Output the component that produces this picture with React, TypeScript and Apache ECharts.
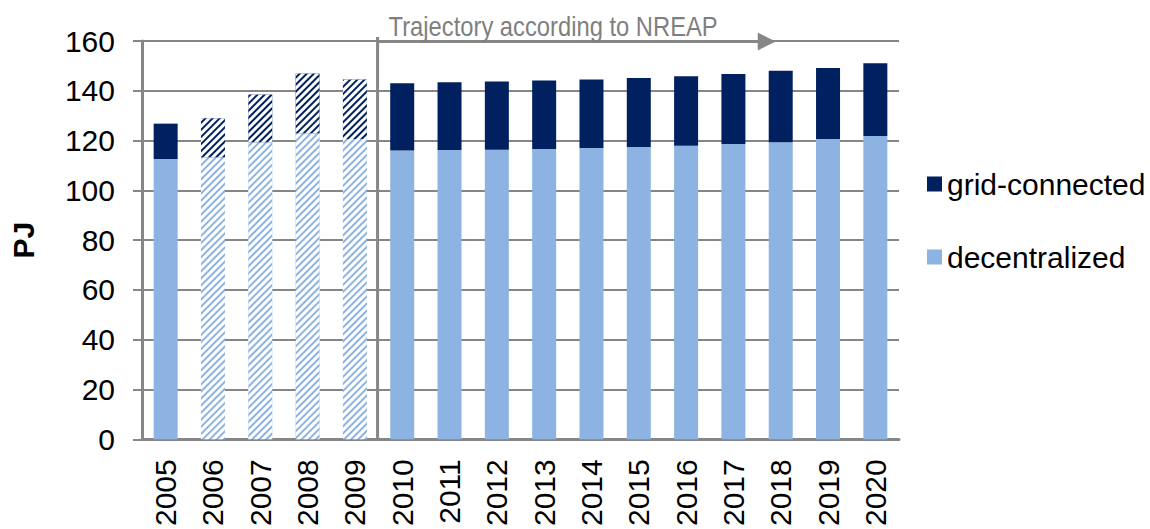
import React, { useEffect, useRef } from 'react';
import * as echarts from 'echarts';

const years = ['2005', '2006', '2007', '2008', '2009', '2010', '2011', '2012', '2013', '2014', '2015', '2016', '2017', '2018', '2019', '2020'];
const decentralized = [112.6, 113.3, 119.3, 122.9, 120.6, 116.0, 116.2, 116.3, 116.6, 117.0, 117.4, 117.9, 118.6, 119.3, 120.6, 121.8];
const gridConnected = [14.2, 15.7, 19.2, 24.0, 23.9, 27.0, 27.2, 27.4, 27.5, 27.5, 27.7, 27.9, 28.1, 28.7, 28.6, 29.3];
const hatchedYears = ['2006', '2007', '2008', '2009'];
const yTicks = { min: 0, max: 160, interval: 20 };
const annotation = 'Trajectory according to NREAP';
const trajectoryStart = '2010';
const trajectoryEnd = '2018';

const DARK = '#002060';
const LIGHT = '#8db3e2';
const GRAY = '#868686';
const FONT = "'Liberation Sans', Arial, sans-serif";

const decal = {
  symbol: 'rect',
  color: '#ffffff',
  dashArrayX: [1, 0],
  dashArrayY: [2.2, 2],
  rotation: -Math.PI / 4,
};

export default function App() {
  const ref = useRef<HTMLDivElement>(null);
  useEffect(() => {
    if (!ref.current) return;
    const chart = echarts.init(ref.current, undefined, { renderer: 'svg' });
    const mk = (vals: number[], color: string) =>
      vals.map((v, i) =>
        hatchedYears.includes(years[i])
          ? { value: v, itemStyle: { color, decal } }
          : { value: v }
      );
    chart.setOption({
      animation: false,
      grid: { left: 137, right: 251, top: 41, bottom: 86, containLabel: false },
      legend: {
        orient: 'vertical',
        left: 927,
        top: 169,
        padding: 0,
        itemWidth: 15,
        itemHeight: 15,
        itemGap: 43,
        icon: 'rect',
        data: ['grid-connected', 'decentralized'],
        textStyle: { fontSize: 30, fontFamily: FONT, color: '#000' },
        selectedMode: false,
      },
      xAxis: {
        type: 'category',
        data: years,
        axisTick: { show: false },
        axisLine: { lineStyle: { color: GRAY, width: 3 } },
        axisLabel: { rotate: 90, fontSize: 30, fontFamily: FONT, color: '#000', margin: 20, interval: 0 },
      },
      yAxis: {
        type: 'value',
        min: yTicks.min,
        max: yTicks.max,
        interval: yTicks.interval,
        name: 'PJ',
        nameLocation: 'middle',
        nameRotate: 90,
        nameGap: 104,
        nameTextStyle: { fontSize: 30, fontWeight: 'bold', fontFamily: FONT, color: '#000' },
        axisLine: { show: true, lineStyle: { color: GRAY, width: 3 } },
        axisTick: { show: true, length: 9, lineStyle: { color: GRAY, width: 2 } },
        axisLabel: { fontSize: 30, fontFamily: FONT, color: '#000', margin: 27 },
        splitLine: { lineStyle: { color: GRAY, width: 2 } },
      },
      series: [
        {
          name: 'decentralized',
          type: 'bar',
          stack: 'total',
          barWidth: 24,
          itemStyle: { color: LIGHT },
          data: mk(decentralized, LIGHT),
        },
        {
          name: 'grid-connected',
          type: 'bar',
          stack: 'total',
          barWidth: 24,
          itemStyle: { color: DARK },
          data: mk(gridConnected, DARK),
        },
      ],
    });
    const i0 = years.indexOf(trajectoryStart);
    const i1 = years.indexOf(trajectoryEnd);
    const xa = chart.convertToPixel({ xAxisIndex: 0 }, i0 - 1) as number;
    const xb = chart.convertToPixel({ xAxisIndex: 0 }, i0) as number;
    const xSep = (xa + xb) / 2 - 1;
    const xTip = (chart.convertToPixel({ xAxisIndex: 0 }, i1) as number) - 5;
    const yTop = chart.convertToPixel({ yAxisIndex: 0 }, yTicks.max) as number;
    const yBot = chart.convertToPixel({ yAxisIndex: 0 }, yTicks.min) as number;
    chart.setOption({
      graphic: [
        {
          type: 'line',
          shape: { x1: xSep, y1: yTop - 4, x2: xSep, y2: yBot },
          style: { stroke: GRAY, lineWidth: 3 },
          z: 10,
        },
        {
          type: 'line',
          shape: { x1: xSep, y1: yTop + 0.5, x2: xTip - 17, y2: yTop + 0.5 },
          style: { stroke: GRAY, lineWidth: 3 },
          z: 10,
        },
        {
          type: 'polygon',
          shape: { points: [[xTip - 18, yTop - 8.5], [xTip, yTop + 0.5], [xTip - 18, yTop + 9.5]] },
          style: { fill: GRAY },
          z: 10,
        },
        {
          type: 'text',
          x: xSep + 11,
          y: yTop - 15,
          scaleX: 0.88,
          style: {
            text: annotation,
            fill: '#7f7f7f',
            fontSize: 27,
            fontFamily: "'Liberation Sans Narrow', 'Arial Narrow', sans-serif",
            verticalAlign: 'middle',
          },
          z: 10,
        },
      ],
    });
    return () => chart.dispose();
  }, []);
  return <div ref={ref} style={{ position: 'absolute', left: 0, top: 0, width: 1150, height: 529 }} />;
}
